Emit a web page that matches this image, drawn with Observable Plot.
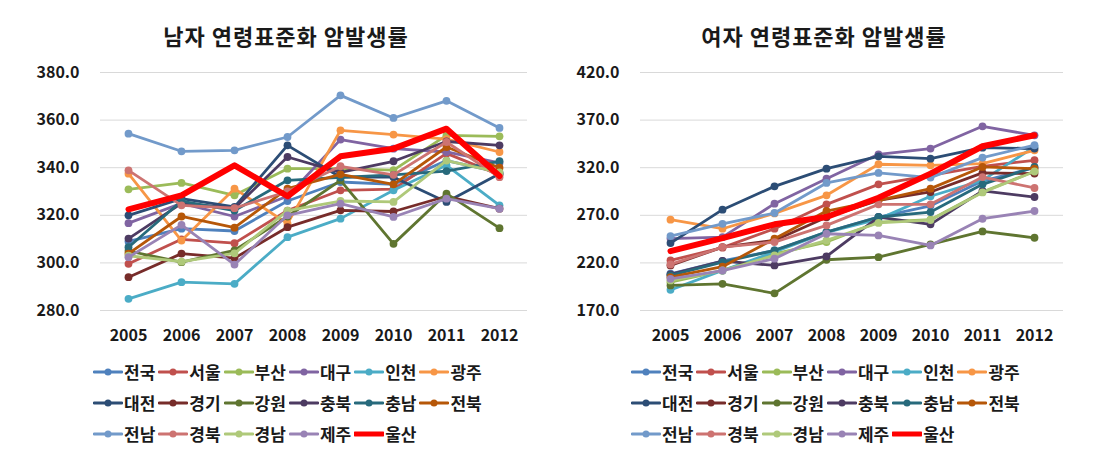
<!DOCTYPE html>
<html><head><meta charset="utf-8">
<script src="https://cdn.jsdelivr.net/npm/d3@7"></script>
<script src="https://cdn.jsdelivr.net/npm/@observablehq/plot@0.6"></script>
<style>
body{margin:0;background:#fff;font-family:"Noto Sans CJK KR","Noto Sans",sans-serif;}
#root{position:relative;width:1097px;height:457px;overflow:hidden;background:#fff;}
.title{position:absolute;top:20px;height:30px;line-height:30px;font-size:22px;font-weight:bold;text-align:center;color:#1a1a1a;letter-spacing:1px;white-space:nowrap;}
.chart{position:absolute;top:55px;}
.legend{position:absolute;display:flex;flex-wrap:wrap;width:400px;}
.item{width:65.3px;height:31px;display:flex;align-items:center;font-size:17px;font-weight:bold;color:#1a1a1a;white-space:nowrap;}
.item svg{flex:none;margin-right:1px;}
</style></head>
<body><div id="root"></div>
<script>
const years = [2005, 2006, 2007, 2008, 2009, 2010, 2011, 2012];
const regions = ["전국","서울","부산","대구","인천","광주","대전","경기","강원","충북","충남","전북","전남","경북","경남","제주","울산"];
const colors = ["#4F81BD","#C0504D","#9BBB59","#8064A2","#4BACC6","#F79646","#2C4D75","#772C2A","#5F7530","#4D3B62","#276A7C","#B65708","#729ACA","#CD7371","#AFC97A","#9983B5","#FF0000"];
const maleTicks = [280, 300, 320, 340, 360, 380];
const femaleTicks = [170, 220, 270, 320, 370, 420];
const maleTitle = "남자 연령표준화 암발생률";
const femaleTitle = "여자 연령표준화 암발생률";

// Male rates by region
const mNational  = [309.0, 314.4, 313.4, 326.0, 334.0, 333.0, 343.0, 338.0];
const mSeoul     = [299.6, 309.9, 308.3, 322.0, 330.5, 331.0, 346.0, 337.0];
const mBusan     = [330.9, 333.6, 328.4, 339.6, 339.6, 339.0, 353.6, 353.2];
const mDaegu     = [316.7, 325.0, 319.5, 328.0, 351.8, 348.0, 346.6, 342.0];
const mIncheon   = [284.9, 291.9, 291.2, 310.8, 318.6, 330.5, 341.0, 324.2];
const mGwangju   = [337.5, 309.4, 331.2, 316.5, 355.7, 353.9, 352.0, 346.6];
const mDaejeon   = [320.0, 327.0, 323.5, 349.4, 336.0, 336.0, 325.6, 337.5];
const mGyeonggi  = [294.0, 303.9, 302.0, 315.0, 322.1, 321.6, 328.0, 322.8];
const mGangwon   = [305.0, 300.3, 305.3, 319.5, 334.7, 308.0, 329.1, 314.6];
const mChungbuk  = [310.2, 325.0, 323.0, 344.5, 338.0, 342.7, 351.0, 349.4];
const mChungnam  = [306.6, 326.0, 322.0, 334.7, 335.9, 337.0, 338.6, 342.7];
const mJeonbuk   = [303.9, 319.5, 314.8, 331.2, 337.2, 333.0, 348.7, 340.0];
const mJeonnam   = [354.3, 346.9, 347.3, 352.9, 370.4, 360.9, 368.1, 356.7];
const mGyeongbuk = [338.9, 324.2, 323.0, 330.0, 340.6, 337.0, 350.8, 336.0];
const mGyeongnam = [303.0, 300.5, 304.0, 322.0, 326.0, 325.6, 343.0, 338.0];
const mJeju      = [302.4, 316.0, 299.3, 320.0, 324.9, 319.3, 327.0, 322.8];
const mUlsan     = [322.5, 328.4, 341.0, 328.0, 344.8, 348.0, 356.4, 336.5];

// Female rates by region
const fNational  = [208.6, 222.0, 233.0, 252.4, 268.2, 280.0, 306.0, 320.0];
const fSeoul     = [222.6, 236.0, 255.9, 281.5, 302.5, 312.0, 321.5, 327.8];
const fBusan     = [199.8, 212.0, 229.6, 241.9, 262.9, 265.4, 294.5, 316.2];
const fDaegu     = [245.5, 247.0, 282.2, 308.5, 334.1, 340.1, 363.5, 354.0];
const fIncheon   = [191.7, 212.0, 231.4, 252.0, 266.0, 290.0, 306.7, 342.0];
const fGwangju   = [265.4, 255.9, 272.0, 291.0, 323.6, 322.5, 324.3, 338.3];
const fDaejeon   = [240.8, 275.9, 300.4, 319.0, 332.0, 329.5, 341.0, 340.1];
const fGyeonggi  = [217.3, 236.6, 243.6, 268.0, 285.7, 294.5, 314.5, 313.8];
const fGangwon   = [196.3, 198.0, 188.0, 223.3, 226.0, 239.4, 253.1, 246.4];
const fChungbuk  = [208.0, 222.0, 217.3, 226.8, 268.0, 260.5, 295.6, 289.2];
const fChungnam  = [206.8, 220.8, 233.1, 252.4, 268.2, 273.4, 302.5, 320.8];
const fJeonbuk   = [205.0, 216.0, 245.4, 274.5, 285.7, 298.0, 320.8, 319.0];
const fJeonnam   = [248.2, 261.0, 272.4, 304.0, 314.5, 309.6, 330.6, 343.6];
const fGyeongbuk = [218.4, 236.6, 241.9, 259.4, 281.5, 281.5, 310.2, 298.7];
const fGyeongnam = [201.6, 212.0, 228.0, 243.6, 262.0, 265.0, 294.0, 316.0];
const fJeju      = [203.3, 212.0, 224.4, 250.6, 248.9, 238.4, 266.4, 274.5];
const fUlsan     = [232.4, 246.0, 260.5, 268.2, 288.5, 313.8, 342.5, 354.1];

const maleSeries = [mNational,mSeoul,mBusan,mDaegu,mIncheon,mGwangju,mDaejeon,mGyeonggi,mGangwon,mChungbuk,mChungnam,mJeonbuk,mJeonnam,mGyeongbuk,mGyeongnam,mJeju,mUlsan];
const femaleSeries = [fNational,fSeoul,fBusan,fDaegu,fIncheon,fGwangju,fDaejeon,fGyeonggi,fGangwon,fChungbuk,fChungnam,fJeonbuk,fJeonnam,fGyeongbuk,fGyeongnam,fJeju,fUlsan];

function toRows(series) {
  const rows = [];
  series.forEach((vals, i) => vals.forEach((v, j) => rows.push({region: regions[i], year: years[j], value: v})));
  return rows;
}

function makeChart(series, ticks, opts) {
  const rows = toRows(series);
  const marks = [
    Plot.gridY(ticks, {stroke: "#d9d9d9", strokeOpacity: 1, strokeWidth: 1}),
    Plot.axisY(ticks, {tickSize: 0, tickPadding: 21, tickFormat: d3.format(".1f"), fontSize: 16, fontWeight: "bold"}),
    Plot.axisX({tickSize: 0, tickPadding: 19, tickFormat: d => String(d), fontSize: 16, fontWeight: "bold"})
  ];
  regions.forEach(r => {
    const d = rows.filter(row => row.region === r);
    if (r === "울산") {
      marks.push(Plot.line(d, {x: "year", y: "value", stroke: "region", strokeWidth: 6, strokeLinejoin: "round"}));
    } else {
      marks.push(Plot.line(d, {x: "year", y: "value", stroke: "region", strokeWidth: 2.8, strokeLinejoin: "round"}));
      marks.push(Plot.dot(d, {x: "year", y: "value", fill: "region", r: 3.9}));
    }
  });
  return Plot.plot({
    width: opts.width, height: 300,
    marginLeft: opts.ml, marginRight: opts.mr, marginTop: 17, marginBottom: 45,
    x: {type: "point", domain: years, padding: 0.5, label: null},
    y: {domain: [ticks[0], ticks[ticks.length - 1]], label: null},
    color: {type: "ordinal", domain: regions, range: colors},
    style: {fontFamily: "'Noto Sans CJK KR', sans-serif", color: "#1a1a1a", background: "transparent", overflow: "visible"},
    marks
  });
}

function makeLegend(left, top) {
  const lg = document.createElement("div");
  lg.className = "legend";
  lg.style.left = left + "px";
  lg.style.top = top + "px";
  regions.forEach((r, i) => {
    const it = document.createElement("div");
    it.className = "item";
    const ns = "http://www.w3.org/2000/svg";
    const s = document.createElementNS(ns, "svg");
    s.setAttribute("width", 30); s.setAttribute("height", 12);
    const ln = document.createElementNS(ns, "line");
    ln.setAttribute("x1", 1); ln.setAttribute("x2", 29); ln.setAttribute("y1", 6); ln.setAttribute("y2", 6);
    ln.setAttribute("stroke", colors[i]);
    ln.setAttribute("stroke-width", r === "울산" ? 5 : 2.8);
    ln.setAttribute("stroke-linecap", "round");
    s.appendChild(ln);
    if (r !== "울산") {
      const c = document.createElementNS(ns, "circle");
      c.setAttribute("cx", 15); c.setAttribute("cy", 6); c.setAttribute("r", 3.5);
      c.setAttribute("fill", colors[i]);
      s.appendChild(c);
    }
    it.appendChild(s);
    const t = document.createElement("span");
    t.textContent = r;
    it.appendChild(t);
    lg.appendChild(it);
  });
  return lg;
}

const root = document.getElementById("root");

const t1 = document.createElement("div");
t1.className = "title"; t1.style.left = "86px"; t1.style.width = "400px"; t1.textContent = maleTitle;
root.appendChild(t1);
const t2 = document.createElement("div");
t2.className = "title"; t2.style.left = "624px"; t2.style.width = "400px"; t2.textContent = femaleTitle;
root.appendChild(t2);

const c1 = document.createElement("div");
c1.className = "chart"; c1.style.left = "0px";
c1.appendChild(makeChart(maleSeries, maleTicks, {width: 548, ml: 100, mr: 21}));
root.appendChild(c1);

const c2 = document.createElement("div");
c2.className = "chart"; c2.style.left = "548px";
c2.appendChild(makeChart(femaleSeries, femaleTicks, {width: 549, ml: 92, mr: 34}));
root.appendChild(c2);

root.appendChild(makeLegend(93, 356));
root.appendChild(makeLegend(631, 356));
</script>
</body></html>
